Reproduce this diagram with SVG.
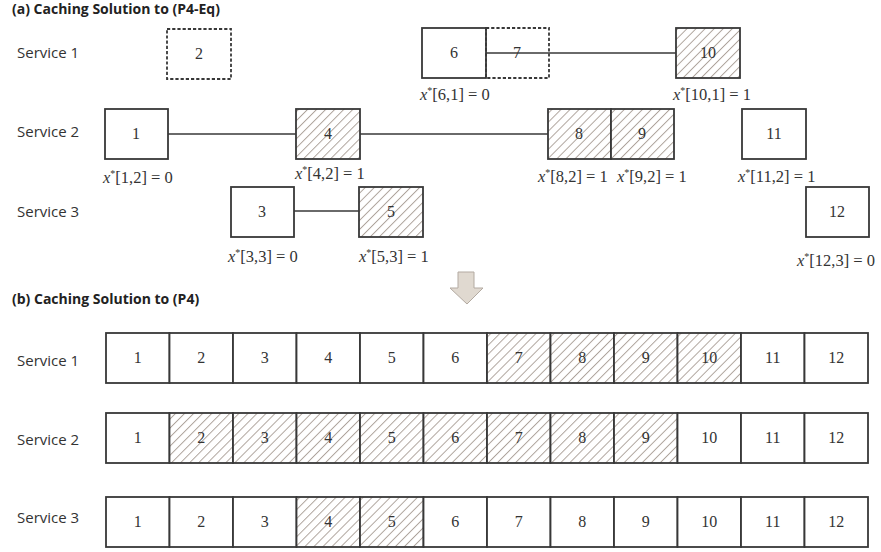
<svg xmlns="http://www.w3.org/2000/svg" width="881" height="552" viewBox="0 0 881 552">
<defs>
<pattern id="hatch" patternUnits="userSpaceOnUse" width="6.4" height="6.4" patternTransform="rotate(45)">
<rect width="6.4" height="6.4" fill="#fff"/>
<line x1="0.5" y1="0" x2="0.5" y2="6.4" stroke="#a1978d" stroke-width="0.85"/>
</pattern>
</defs>
<style>
.title{font-family:"Open Sans","Liberation Sans",sans-serif;font-weight:bold;font-size:14px;fill:#222}
.svc{font-family:"Open Sans","Liberation Sans",sans-serif;font-size:15px;fill:#333}
.box{fill:#fff;stroke:#383838;stroke-width:1.8}
.hb{fill:url(#hatch);stroke:#383838;stroke-width:1.8}
.db{fill:none;stroke:#383838;stroke-width:1.8;stroke-dasharray:3.2 2}
.num{font-family:"Liberation Serif","DejaVu Serif",serif;font-size:16px;fill:#333;text-anchor:middle}
.lbl{font-family:"Liberation Serif","DejaVu Serif",serif;font-size:16.5px;fill:#333}
.it{font-style:italic}
.st{font-size:10px}
.conn{stroke:#383838;stroke-width:1.6;fill:none}
.arrow{fill:#e0d9d0;stroke:#b3aaa1;stroke-width:1}
</style>

<text class="title" x="12" y="14">(a) Caching Solution to (P4-Eq)</text>
<text class="svc" x="17" y="58">Service 1</text>
<text class="svc" x="17" y="137">Service 2</text>
<text class="svc" x="17" y="217">Service 3</text>

<g id="connectors">
<line class="conn" x1="486" y1="53" x2="676" y2="53"/>
<line class="conn" x1="168" y1="134" x2="296" y2="134"/>
<line class="conn" x1="360" y1="134" x2="548" y2="134"/>
<line class="conn" x1="294" y1="211" x2="359" y2="211"/>
</g>

<g id="a-s1-2"><rect class="db" x="167" y="29" width="64" height="50"/><text class="num" x="199" y="59">2</text></g>
<g id="a-s1-6"><rect class="box" x="422" y="28" width="64" height="50" style="fill:none"/><text class="num" x="454" y="58">6</text></g>
<g id="a-s1-7"><rect class="db" x="486" y="28" width="63" height="50"/><text class="num" x="517" y="58">7</text></g>
<g id="a-s1-10"><rect class="hb" x="676" y="28" width="64" height="50"/><text class="num" x="708" y="58">10</text></g>

<g id="a-s2-1"><rect class="box" x="105" y="109" width="63" height="50"/><text class="num" x="136" y="139">1</text></g>
<g id="a-s2-4"><rect class="hb" x="296" y="109" width="64" height="50"/><text class="num" x="328" y="139">4</text></g>
<g id="a-s2-8"><rect class="hb" x="548" y="109" width="63" height="50"/><text class="num" x="579" y="139">8</text></g>
<g id="a-s2-9"><rect class="hb" x="611" y="109" width="63" height="50"/><text class="num" x="642" y="139">9</text></g>
<g id="a-s2-11"><rect class="box" x="742" y="109" width="64" height="50"/><text class="num" x="774" y="139">11</text></g>

<g id="a-s3-3"><rect class="box" x="231" y="187" width="63" height="50"/><text class="num" x="262" y="217">3</text></g>
<g id="a-s3-5"><rect class="hb" x="359" y="187" width="64" height="50"/><text class="num" x="391" y="217">5</text></g>
<g id="a-s3-12"><rect class="box" x="806" y="187" width="63" height="50"/><text class="num" x="837" y="217">12</text></g>

<g id="labels">
<text class="lbl" x="420" y="100"><tspan class="it">x</tspan><tspan class="st" dy="-6">*</tspan><tspan dy="6">[6,1] = 0</tspan></text>
<text class="lbl" x="673" y="100"><tspan class="it">x</tspan><tspan class="st" dy="-6">*</tspan><tspan dy="6">[10,1] = 1</tspan></text>
<text class="lbl" x="103" y="183"><tspan class="it">x</tspan><tspan class="st" dy="-6">*</tspan><tspan dy="6">[1,2] = 0</tspan></text>
<text class="lbl" x="295" y="179"><tspan class="it">x</tspan><tspan class="st" dy="-6">*</tspan><tspan dy="6">[4,2] = 1</tspan></text>
<text class="lbl" x="538" y="182"><tspan class="it">x</tspan><tspan class="st" dy="-6">*</tspan><tspan dy="6">[8,2] = 1</tspan></text>
<text class="lbl" x="617" y="182"><tspan class="it">x</tspan><tspan class="st" dy="-6">*</tspan><tspan dy="6">[9,2] = 1</tspan></text>
<text class="lbl" x="738" y="182"><tspan class="it">x</tspan><tspan class="st" dy="-6">*</tspan><tspan dy="6">[11,2] = 1</tspan></text>
<text class="lbl" x="228" y="262"><tspan class="it">x</tspan><tspan class="st" dy="-6">*</tspan><tspan dy="6">[3,3] = 0</tspan></text>
<text class="lbl" x="359" y="262"><tspan class="it">x</tspan><tspan class="st" dy="-6">*</tspan><tspan dy="6">[5,3] = 1</tspan></text>
<text class="lbl" x="797" y="266"><tspan class="it">x</tspan><tspan class="st" dy="-6">*</tspan><tspan dy="6">[12,3] = 0</tspan></text>
</g>

<g id="arrow"><path class="arrow" d="M458,272 H474 V288 H483 L467,304 L450,288 H458 Z"/></g>

<text class="title" x="12" y="304">(b) Caching Solution to (P4)</text>
<text class="svc" x="17" y="366">Service 1</text>
<text class="svc" x="17" y="445">Service 2</text>
<text class="svc" x="17" y="523">Service 3</text>

<g id="b-s1">
<rect class="box" x="106" y="333" width="63.5" height="50"/><text class="num" x="137.75" y="363">1</text>
<rect class="box" x="169.5" y="333" width="63.5" height="50"/><text class="num" x="201.25" y="363">2</text>
<rect class="box" x="233" y="333" width="63.5" height="50"/><text class="num" x="264.75" y="363">3</text>
<rect class="box" x="296.5" y="333" width="63.5" height="50"/><text class="num" x="328.25" y="363">4</text>
<rect class="box" x="360" y="333" width="63.5" height="50"/><text class="num" x="391.75" y="363">5</text>
<rect class="box" x="423.5" y="333" width="63.5" height="50"/><text class="num" x="455.25" y="363">6</text>
<rect class="hb" x="487" y="333" width="63.5" height="50"/><text class="num" x="518.75" y="363">7</text>
<rect class="hb" x="550.5" y="333" width="63.5" height="50"/><text class="num" x="582.25" y="363">8</text>
<rect class="hb" x="614" y="333" width="63.5" height="50"/><text class="num" x="645.75" y="363">9</text>
<rect class="hb" x="677.5" y="333" width="63.5" height="50"/><text class="num" x="709.25" y="363">10</text>
<rect class="box" x="741" y="333" width="63.5" height="50"/><text class="num" x="772.75" y="363">11</text>
<rect class="box" x="804.5" y="333" width="63.5" height="50"/><text class="num" x="836.25" y="363">12</text>
</g>
<g id="b-s2">
<rect class="box" x="106" y="413" width="63.5" height="50"/><text class="num" x="137.75" y="443">1</text>
<rect class="hb" x="169.5" y="413" width="63.5" height="50"/><text class="num" x="201.25" y="443">2</text>
<rect class="hb" x="233" y="413" width="63.5" height="50"/><text class="num" x="264.75" y="443">3</text>
<rect class="hb" x="296.5" y="413" width="63.5" height="50"/><text class="num" x="328.25" y="443">4</text>
<rect class="hb" x="360" y="413" width="63.5" height="50"/><text class="num" x="391.75" y="443">5</text>
<rect class="hb" x="423.5" y="413" width="63.5" height="50"/><text class="num" x="455.25" y="443">6</text>
<rect class="hb" x="487" y="413" width="63.5" height="50"/><text class="num" x="518.75" y="443">7</text>
<rect class="hb" x="550.5" y="413" width="63.5" height="50"/><text class="num" x="582.25" y="443">8</text>
<rect class="hb" x="614" y="413" width="63.5" height="50"/><text class="num" x="645.75" y="443">9</text>
<rect class="box" x="677.5" y="413" width="63.5" height="50"/><text class="num" x="709.25" y="443">10</text>
<rect class="box" x="741" y="413" width="63.5" height="50"/><text class="num" x="772.75" y="443">11</text>
<rect class="box" x="804.5" y="413" width="63.5" height="50"/><text class="num" x="836.25" y="443">12</text>
</g>
<g id="b-s3">
<rect class="box" x="106" y="497" width="63.5" height="50"/><text class="num" x="137.75" y="527">1</text>
<rect class="box" x="169.5" y="497" width="63.5" height="50"/><text class="num" x="201.25" y="527">2</text>
<rect class="box" x="233" y="497" width="63.5" height="50"/><text class="num" x="264.75" y="527">3</text>
<rect class="hb" x="296.5" y="497" width="63.5" height="50"/><text class="num" x="328.25" y="527">4</text>
<rect class="hb" x="360" y="497" width="63.5" height="50"/><text class="num" x="391.75" y="527">5</text>
<rect class="box" x="423.5" y="497" width="63.5" height="50"/><text class="num" x="455.25" y="527">6</text>
<rect class="box" x="487" y="497" width="63.5" height="50"/><text class="num" x="518.75" y="527">7</text>
<rect class="box" x="550.5" y="497" width="63.5" height="50"/><text class="num" x="582.25" y="527">8</text>
<rect class="box" x="614" y="497" width="63.5" height="50"/><text class="num" x="645.75" y="527">9</text>
<rect class="box" x="677.5" y="497" width="63.5" height="50"/><text class="num" x="709.25" y="527">10</text>
<rect class="box" x="741" y="497" width="63.5" height="50"/><text class="num" x="772.75" y="527">11</text>
<rect class="box" x="804.5" y="497" width="63.5" height="50"/><text class="num" x="836.25" y="527">12</text>
</g>
</svg>
